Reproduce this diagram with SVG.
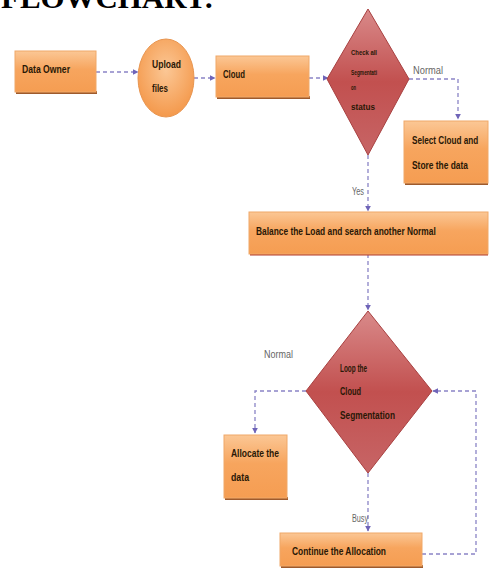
<svg xmlns="http://www.w3.org/2000/svg" width="489" height="571" viewBox="0 0 489 571">
<defs>
<linearGradient id="og" x1="0" y1="0" x2="0" y2="1">
<stop offset="0" stop-color="#FBC795"/>
<stop offset="0.45" stop-color="#F7A55E"/>
<stop offset="1" stop-color="#F59D52"/>
</linearGradient>
<radialGradient id="eg" cx="0.5" cy="0.4" r="0.6">
<stop offset="0" stop-color="#FBC795"/>
<stop offset="1" stop-color="#F4994C"/>
</radialGradient>
<linearGradient id="rg" x1="0" y1="0" x2="0" y2="1">
<stop offset="0" stop-color="#D98A8A"/>
<stop offset="0.5" stop-color="#C2504F"/>
<stop offset="1" stop-color="#C76566"/>
</linearGradient>
<marker id="ah" viewBox="0 0 10 10" refX="9" refY="5" markerWidth="6" markerHeight="6" orient="auto" markerUnits="userSpaceOnUse">
<path d="M0,0 L10,5 L0,10 z" fill="#6F64B8"/>
</marker>
</defs>
<style>
.box{fill:url(#og);stroke:#F0A868;stroke-width:1}
.sh{fill:#9E5A2C}
.dia{fill:url(#rg);stroke:#A84040;stroke-width:1}
.t{font-family:"Liberation Sans",Arial,sans-serif;font-weight:bold;fill:#2A1806}
.lbl{font-family:"Liberation Sans",Arial,sans-serif;fill:#666;}
.c{fill:none;stroke:#8A84C6;stroke-width:1.3;stroke-dasharray:4 3}
</style>
<rect width="489" height="571" fill="#fff"/>
<text x="1" y="8" font-family="Liberation Serif,Times New Roman,serif" font-weight="bold" font-size="30" fill="#000" textLength="213" lengthAdjust="spacingAndGlyphs">FLOWCHART:</text>

<g id="connectors">
<path class="c" d="M96,72 H138" marker-end="url(#ah)"/>
<path class="c" d="M194,78 H215" marker-end="url(#ah)"/>
<path class="c" d="M309,78 H328" marker-end="url(#ah)"/>
<path class="c" d="M409,79 H458 V119" marker-end="url(#ah)"/>
<path class="c" d="M368,155 V211" marker-end="url(#ah)"/>
<path class="c" d="M368,254 V310" marker-end="url(#ah)"/>
<path class="c" d="M306,391 H255 V433" marker-end="url(#ah)"/>
<path class="c" d="M368,473 V531" marker-end="url(#ah)"/>
<path class="c" d="M422,554 H476 V391 H433" marker-end="url(#ah)"/>
<text class="lbl" x="413" y="74" font-size="10" textLength="30" lengthAdjust="spacingAndGlyphs">Normal</text>
<text class="lbl" x="352" y="195" font-size="10" textLength="12" lengthAdjust="spacingAndGlyphs">Yes</text>
<text class="lbl" x="264" y="358" font-size="10" textLength="29" lengthAdjust="spacingAndGlyphs">Normal</text>
<text class="lbl" x="352" y="522" font-size="10" textLength="16" lengthAdjust="spacingAndGlyphs">Busy</text>
</g>

<g id="data-owner">
<rect class="sh" x="16" y="91" width="81" height="3"/>
<rect class="box" x="15" y="51" width="81" height="41"/>
<text class="t" x="22" y="73" font-size="10.5" textLength="48" lengthAdjust="spacingAndGlyphs">Data Owner</text>
</g>

<g id="upload-files">
<ellipse cx="166" cy="78" rx="28" ry="39" fill="url(#eg)" stroke="#E89550" stroke-width="1"/>
<text class="t" x="152" y="68" font-size="10.5" textLength="29" lengthAdjust="spacingAndGlyphs">Upload</text>
<text class="t" x="152" y="92" font-size="10.5" textLength="16" lengthAdjust="spacingAndGlyphs">files</text>
</g>

<g id="cloud">
<rect class="sh" x="217" y="96" width="93" height="3"/>
<rect class="box" x="216" y="56" width="93" height="41"/>
<text class="t" x="223" y="78" font-size="10.5" textLength="22" lengthAdjust="spacingAndGlyphs">Cloud</text>
</g>

<g id="check-status">
<polygon class="dia" points="368,9 409,79 368,155 327,79"/>
<text class="t" x="351" y="55" font-size="7" textLength="26" lengthAdjust="spacingAndGlyphs">Check all</text>
<text class="t" x="351" y="75" font-size="7" textLength="26" lengthAdjust="spacingAndGlyphs">Segmentati</text>
<text class="t" x="351" y="90" font-size="7" textLength="5" lengthAdjust="spacingAndGlyphs">on</text>
<text class="t" x="351" y="110" font-size="9" textLength="24" lengthAdjust="spacingAndGlyphs">status</text>
</g>

<g id="select-cloud">
<rect class="sh" x="405" y="182" width="83" height="3"/>
<rect class="box" x="404" y="121" width="84" height="62"/>
<text class="t" transform="translate(412,144) scale(0.78,1)" x="0" y="0" font-size="10.5" textLength="85" lengthAdjust="spacingAndGlyphs">Select Cloud and</text>
<text class="t" x="412" y="169" font-size="10.5" textLength="56" lengthAdjust="spacingAndGlyphs">Store the data</text>
</g>

<g id="balance">
<rect fill="#B23A2A" x="250" y="253" width="238" height="2.5"/>
<rect class="box" x="249" y="212" width="239" height="42"/>
<text class="t" transform="translate(256,235) scale(0.765,1)" x="0" y="0" font-size="11" textLength="235" lengthAdjust="spacingAndGlyphs">Balance the Load and search another Normal</text>
</g>

<g id="loop-segmentation">
<polygon class="dia" points="368,311 432,391 368,473 306,391"/>
<text class="t" x="340" y="372" font-size="10.5" textLength="27" lengthAdjust="spacingAndGlyphs">Loop the</text>
<text class="t" x="340" y="395" font-size="10.5" textLength="21" lengthAdjust="spacingAndGlyphs">Cloud</text>
<text class="t" x="340" y="419" font-size="10.5" textLength="55" lengthAdjust="spacingAndGlyphs">Segmentation</text>
</g>

<g id="allocate">
<rect class="sh" x="225" y="497" width="63" height="3"/>
<rect class="box" x="224" y="435" width="63" height="63"/>
<text class="t" x="231" y="457" font-size="10.5" textLength="48" lengthAdjust="spacingAndGlyphs">Allocate the</text>
<text class="t" x="231" y="481" font-size="10.5" textLength="18" lengthAdjust="spacingAndGlyphs">data</text>
</g>

<g id="continue">
<rect class="sh" x="281" y="565" width="142" height="3"/>
<rect class="box" x="280" y="533" width="142" height="33"/>
<text class="t" x="292" y="555" font-size="10.5" textLength="94" lengthAdjust="spacingAndGlyphs">Continue the Allocation</text>
</g>
</svg>
